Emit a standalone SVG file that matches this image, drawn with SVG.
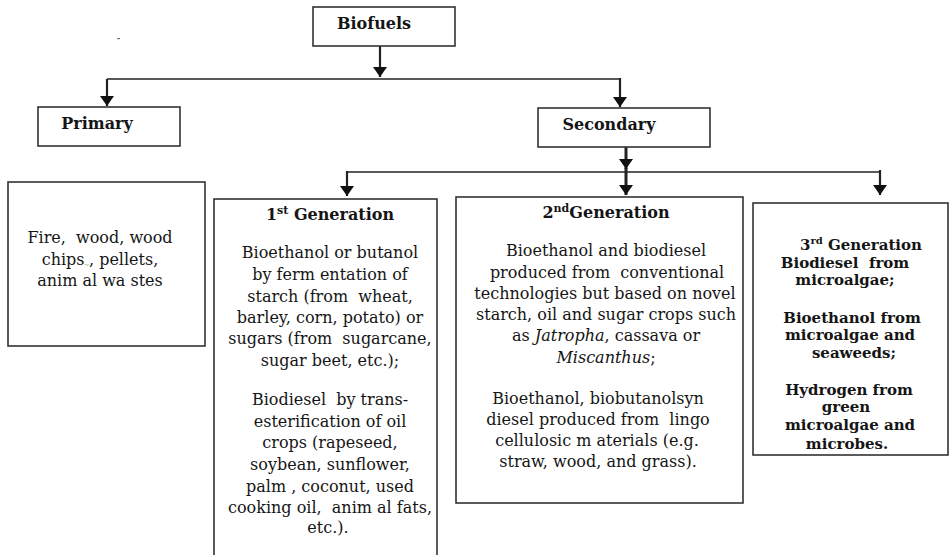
<svg xmlns="http://www.w3.org/2000/svg" width="950" height="555" viewBox="0 0 950 555">
<style>
.box{fill:#fff;stroke:#333;stroke-width:1.6}
.t{font-family:"DejaVu Serif","Liberation Serif",serif;font-size:16px;fill:#151515;text-anchor:middle;white-space:pre}
.b{font-weight:bold}
.s{font-size:15px}
.c{fill:none;stroke:#222;stroke-width:1.6}
.v{fill:none;stroke:#222;stroke-width:2.2}
</style>
<defs>
<marker id="ah" viewBox="0 0 10 14" refX="10" refY="7" markerWidth="10" markerHeight="14" markerUnits="userSpaceOnUse" orient="auto">
<path d="M0,0 L10,7 L0,14 z" fill="#111"/>
</marker>
</defs>
<rect width="950" height="555" fill="#fff"/>
<rect x="117" y="38" width="3" height="1.2" fill="#777"/>

<g id="connectors">
<line class="v" x1="380" y1="46" x2="380" y2="77" marker-end="url(#ah)"/>
<line class="c" x1="107" y1="79" x2="620" y2="79"/>
<line class="v" x1="107" y1="79" x2="107" y2="106" marker-end="url(#ah)"/>
<line class="v" x1="620" y1="78" x2="620" y2="107" marker-end="url(#ah)"/>
<line class="v" x1="626" y1="147" x2="626" y2="169" marker-end="url(#ah)" style="stroke-width:3"/>
<line class="v" x1="626" y1="168" x2="626" y2="195" marker-end="url(#ah)" style="stroke-width:3"/>
<line class="c" x1="347" y1="172" x2="880" y2="172"/>
<line class="v" x1="347" y1="171" x2="347" y2="196" marker-end="url(#ah)"/>
<line class="v" x1="880" y1="170" x2="880" y2="195" marker-end="url(#ah)"/>
</g>

<g id="biofuels">
<rect class="box" x="313" y="7" width="142" height="39"/>
<text class="t b" x="374" y="29">Biofuels</text>
</g>

<g id="primary">
<rect class="box" x="38" y="107" width="142" height="39"/>
<text class="t b" x="97" y="129">Primary</text>
</g>

<g id="secondary">
<rect class="box" x="538" y="108" width="172" height="39"/>
<text class="t b" x="609" y="130">Secondary</text>
</g>

<g id="primary-examples">
<rect class="box" x="8" y="182" width="197" height="164"/>
<text class="t" x="100" y="243">Fire,  wood, wood</text>
<text class="t" x="100" y="265">chips<tspan font-size="7" fill="#3a7a2a">.,</tspan>, pellets,</text>
<text class="t" x="100" y="286">anim al wa stes</text>
</g>

<g id="gen1">
<rect class="box" x="214" y="199" width="223" height="400"/>
<text class="t b" x="330" y="220">1<tspan font-size="11" dy="-6">st</tspan><tspan dy="6"> Generation</tspan></text>
<text class="t" x="330" y="258">Bioethanol or butanol</text>
<text class="t" x="330" y="280">by ferm entation of</text>
<text class="t" x="330" y="302">starch (from  wheat,</text>
<text class="t" x="330" y="323">barley, corn, potato) or</text>
<text class="t" x="330" y="344">sugars (from  sugarcane,</text>
<text class="t" x="330" y="366">sugar beet, etc.);</text>
<text class="t" x="330" y="405">Biodiesel  by trans-</text>
<text class="t" x="330" y="427">esterification of oil</text>
<text class="t" x="330" y="448">crops (rapeseed,</text>
<text class="t" x="330" y="470">soybean, sunflower,</text>
<text class="t" x="330" y="492">palm , coconut, used</text>
<text class="t" x="330" y="513">cooking oil,  anim al fats,</text>
<text class="t" x="328" y="533">etc.).</text>
</g>

<g id="gen2">
<rect class="box" x="456" y="197" width="287" height="306"/>
<text class="t b" x="606" y="218">2<tspan font-size="11" dy="-6">nd</tspan><tspan dy="6">Generation</tspan></text>
<text class="t" x="606" y="256">Bioethanol and biodiesel</text>
<text class="t" x="607" y="278">produced from  conventional</text>
<text class="t" x="605" y="299">technologies but based on novel</text>
<text class="t" x="606" y="320">starch, oil and sugar crops such</text>
<text class="t" x="606" y="341">as <tspan font-style="italic">Jatropha</tspan>, cassava or</text>
<text class="t" x="606" y="363"><tspan font-style="italic">Miscanthus</tspan>;</text>
<text class="t" x="598" y="404">Bioethanol, biobutanolsyn</text>
<text class="t" x="598" y="425">diesel produced from  lingo</text>
<text class="t" x="597" y="446">cellulosic m aterials (e.g.</text>
<text class="t" x="598" y="467">straw, wood, and grass).</text>
</g>

<g id="gen3">
<rect class="box" x="753" y="203" width="195" height="252"/>
<text class="t b s" x="861" y="250">3<tspan font-size="10" dy="-6">rd</tspan><tspan dy="6"> Generation</tspan></text>
<text class="t b s" x="845" y="268">Biodiesel  from</text>
<text class="t b s" x="845" y="285">microalgae;</text>
<text class="t b s" x="852" y="323">Bioethanol from</text>
<text class="t b s" x="850" y="340">microalgae and</text>
<text class="t b s" x="854" y="358">seaweeds;</text>
<text class="t b s" x="849" y="395">Hydrogen from</text>
<text class="t b s" x="846" y="412">green</text>
<text class="t b s" x="850" y="430">microalgae and</text>
<text class="t b s" x="847" y="449">microbes.</text>
</g>
</svg>
